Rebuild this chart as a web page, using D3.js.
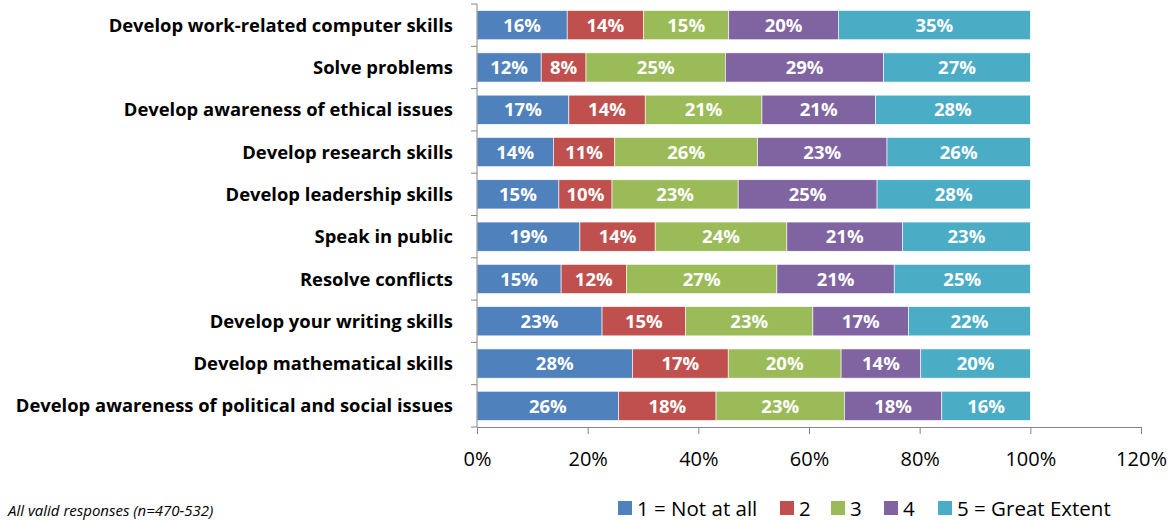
<!DOCTYPE html>
<html>
<head>
<meta charset="utf-8">
<script src="https://cdn.jsdelivr.net/npm/d3@7"></script>
<style>
  body { margin: 0; background: #fff; }
  svg { display: block; }
  text { font-family: "Open Sans", sans-serif; }
</style>
</head>
<body>
<svg id="chart" width="1173" height="522"></svg>
<script>
// categories, top to bottom
var categories = [
    "Develop work-related computer skills",
    "Solve problems",
    "Develop awareness of ethical issues",
    "Develop research skills",
    "Develop leadership skills",
    "Speak in public",
    "Resolve conflicts",
    "Develop your writing skills",
    "Develop mathematical skills",
    "Develop awareness of political and social issues"
];

var seriesNames = ["1 = Not at all", "2", "3", "4", "5 = Great Extent"];
var seriesColors = ["#4F81BD", "#C0504D", "#9BBB59", "#8064A2", "#4BACC6"];

// percent per category, one array per rating
var notAtAll = [16.3, 11.6, 16.6, 13.8, 14.8, 18.6, 15.2, 22.6, 28.1, 25.6];
var rating2 = [13.8, 8.1, 13.8, 11.1, 9.6, 13.6, 11.8, 15.1, 17.3, 17.6];
var rating3 = [15.4, 25.2, 21.1, 25.8, 22.8, 23.8, 27.2, 23.0, 20.4, 23.2];
var rating4 = [19.8, 28.6, 20.5, 23.4, 25.1, 20.9, 21.2, 17.3, 14.4, 17.6];
var greatExtent = [34.7, 26.5, 28.0, 25.9, 27.7, 23.1, 24.6, 22.0, 19.8, 16.0];

var xTicks = [0, 20, 40, 60, 80, 100, 120];
var footnote = "All valid responses (n=470-532)";

var svg = d3.select("#chart");

var x = d3.scaleLinear().domain([0, 120]).range([477, 1141]);
var y = d3.scaleBand().domain(categories).range([4, 427]).paddingInner(0.31).paddingOuter(0.155);

var rows = categories.map(function (c, i) {
    return {cat: c, v: [notAtAll[i], rating2[i], rating3[i], rating4[i], greatExtent[i]]};
});

var stack = d3.stack().keys([0, 1, 2, 3, 4]).value(function (d, k) { return d.v[k]; });
var layers = stack(rows);

var g = svg.append("g");

var layer = g.selectAll("g.layer")
    .data(layers)
    .enter().append("g")
    .attr("class", "layer")
    .attr("fill", function (d, i) { return seriesColors[i]; });

layer.selectAll("rect")
    .data(function (d) { return d; })
    .enter().append("rect")
    .attr("x", function (d) { return x(d[0]); })
    .attr("y", function (d) { return y(d.data.cat); })
    .attr("width", function (d) { return x(d[1]) - x(d[0]); })
    .attr("height", y.bandwidth())
    .attr("stroke", "#fff")
    .attr("stroke-width", 0.6);

layer.selectAll("text")
    .data(function (d) { return d.map(function (p) { p.key = d.key; return p; }); })
    .enter().append("text")
    .attr("x", function (d) { return (x(d[0]) + x(d[1])) / 2; })
    .attr("y", function (d) { return y(d.data.cat) + y.bandwidth() / 2; })
    .attr("dy", "0.36em")
    .attr("text-anchor", "middle")
    .attr("fill", "#fff")
    .attr("font-weight", "bold")
    .attr("font-size", 18.5)
    .text(function (d) { return Math.round(d.data.v[d.key]) + "%"; });

// x axis
var xAxis = svg.append("g")
    .attr("transform", "translate(0,427)")
    .call(d3.axisBottom(x).tickValues(xTicks).tickSize(7).tickPadding(18)
        .tickFormat(function (d) { return d + "%"; }));
xAxis.select(".domain").attr("stroke", "#868686");
xAxis.selectAll(".tick line").attr("stroke", "#868686");
xAxis.selectAll(".tick text")
    .attr("font-size", 20)
    .attr("fill", "#000")
    .style("font-family", "'Open Sans', sans-serif");

// y axis line with ticks between categories
var yAxis = svg.append("g");
yAxis.append("line")
    .attr("x1", 477).attr("x2", 477)
    .attr("y1", 4).attr("y2", 427)
    .attr("stroke", "#868686");
var step = y.step();
yAxis.selectAll("line.ytick")
    .data(d3.range(categories.length + 1))
    .enter().append("line")
    .attr("class", "ytick")
    .attr("x1", 471).attr("x2", 477)
    .attr("y1", function (i) { return 4 + i * step; })
    .attr("y2", function (i) { return 4 + i * step; })
    .attr("stroke", "#868686");

// category labels
svg.append("g").selectAll("text")
    .data(categories)
    .enter().append("text")
    .attr("x", 453)
    .attr("y", function (d) { return y(d) + y.bandwidth() / 2; })
    .attr("dy", "0.36em")
    .attr("text-anchor", "end")
    .attr("font-weight", "bold")
    .attr("font-size", 18.4)
    .attr("fill", "#000")
    .text(function (d) { return d; });

// legend
var legendX = [618, 780, 831, 884, 938];
var legend = svg.append("g").selectAll("g")
    .data(seriesNames)
    .enter().append("g")
    .attr("transform", function (d, i) { return "translate(" + legendX[i] + ",501)"; });
legend.append("rect")
    .attr("width", 14).attr("height", 14)
    .attr("fill", function (d, i) { return seriesColors[i]; });
legend.append("text")
    .attr("x", 19).attr("y", 15)
    .attr("font-size", 20.5)
    .attr("fill", "#000")
    .text(function (d) { return d; });

// footnote
svg.append("text")
    .attr("x", 8).attr("y", 516)
    .attr("font-size", 15)
    .attr("font-style", "italic")
    .attr("fill", "#000")
    .text(footnote);
</script>
</body>
</html>
